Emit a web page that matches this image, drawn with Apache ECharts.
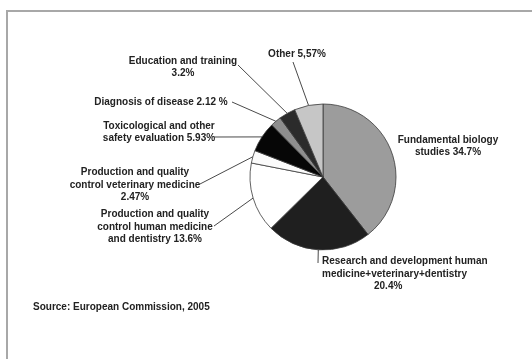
<!DOCTYPE html>
<html>
<head>
<meta charset="utf-8">
<script src="https://cdn.jsdelivr.net/npm/echarts@6/dist/echarts.min.js"></script>
<style>
  html, body { margin: 0; padding: 0; background: #fff; }
  #chart { width: 532px; height: 359px; }
</style>
</head>
<body>
<div id="chart"></div>
<script>
// Uses of laboratory animals by purpose (share of total, %)
const categories = [
  'Fundamental biology\nstudies',
  'Research and development human\nmedicine+veterinary+dentistry',
  'Production and quality\ncontrol human medicine\nand dentistry',
  'Production and quality\ncontrol veterinary medicine',
  'Toxicological and other\nsafety evaluation',
  'Diagnosis of disease',
  'Education and training',
  'Other'
];
const values = [34.7, 20.4, 13.6, 2.47, 5.93, 2.12, 3.2, 5.57];
const valueText = ['34.7%', '20.4%', '13.6%', '2.47%', '5.93%', '2.12 %', '3.2%', '5,57%'];
// how the value is joined to the category name in each label
const joiner = [' ', '\n', ' ', '\n', ' ', ' ', '\n', ' '];
const sliceColors = ['#9c9c9c', '#1f1f1f', '#ffffff', '#fbfbfb', '#060606', '#8e8e8e', '#2b2b2b', '#c6c6c6'];
const sourceNote = 'Source: European Commission, 2005';

// label anchors: [x, y, align] and where each leader line meets its label
const labelAnchor = [
  [448, 146, 'center'],
  [322, 274, 'left'],
  [155, 227, 'center'],
  [135, 185, 'center'],
  [159, 132, 'center'],
  [161, 102, 'center'],
  [183, 67, 'center'],
  [297, 54, 'center']
];
const lineEnd = [null, [318, 263], [214, 226], [200, 184], [214, 137], [232, 102], [238, 65], [293, 62]];

const font = { fontFamily: 'Liberation Sans, Arial, sans-serif', fontSize: 10, fontWeight: 'bold', color: '#222222', lineHeight: 12.5 };

const chart = echarts.init(document.getElementById('chart'), null, { renderer: 'canvas' });

chart.setOption({
  backgroundColor: '#ffffff',
  animation: false,
  title: {
    text: sourceNote,
    left: 33, top: 302,
    padding: 0,
    textStyle: { fontFamily: font.fontFamily, fontSize: 10, fontWeight: 'bold', color: '#222222' }
  },
  graphic: [{
    type: 'rect',
    shape: { x: 7, y: 11, width: 600, height: 400 },
    style: { fill: 'none', stroke: '#a8a8a8', lineWidth: 2 },
    silent: true
  }],
  series: [{
    type: 'pie',
    center: [323, 177],
    radius: 73,
    startAngle: 90,
    clockwise: true,
    avoidLabelOverlap: false,
    itemStyle: { borderColor: '#3a3a3a', borderWidth: 0.8 },
    label: {
      show: true,
      ...font,
      formatter: p => {
        const i = p.dataIndex;
        if (i === 1) return categories[i] + '\n{pct|' + valueText[i] + '}';
        return categories[i] + joiner[i] + valueText[i];
      },
      rich: {
        pct: { ...font, padding: [0, 0, 0, 52] }
      }
    },
    labelLine: { show: true, lineStyle: { color: '#4a4a4a', width: 1 } },
    labelLayout: params => {
      const i = params.dataIndex;
      const a = labelAnchor[i];
      const out = { x: a[0], y: a[1], align: a[2], verticalAlign: 'middle' };
      if (lineEnd[i] && params.labelLinePoints) {
        const start = params.labelLinePoints[0];
        out.labelLinePoints = [start, lineEnd[i], lineEnd[i]];
      }
      return out;
    },
    data: values.map((v, i) => ({
      value: v,
      name: categories[i],
      itemStyle: { color: sliceColors[i] },
      labelLine: { show: i !== 0 }
    }))
  }]
});
</script>
</body>
</html>
